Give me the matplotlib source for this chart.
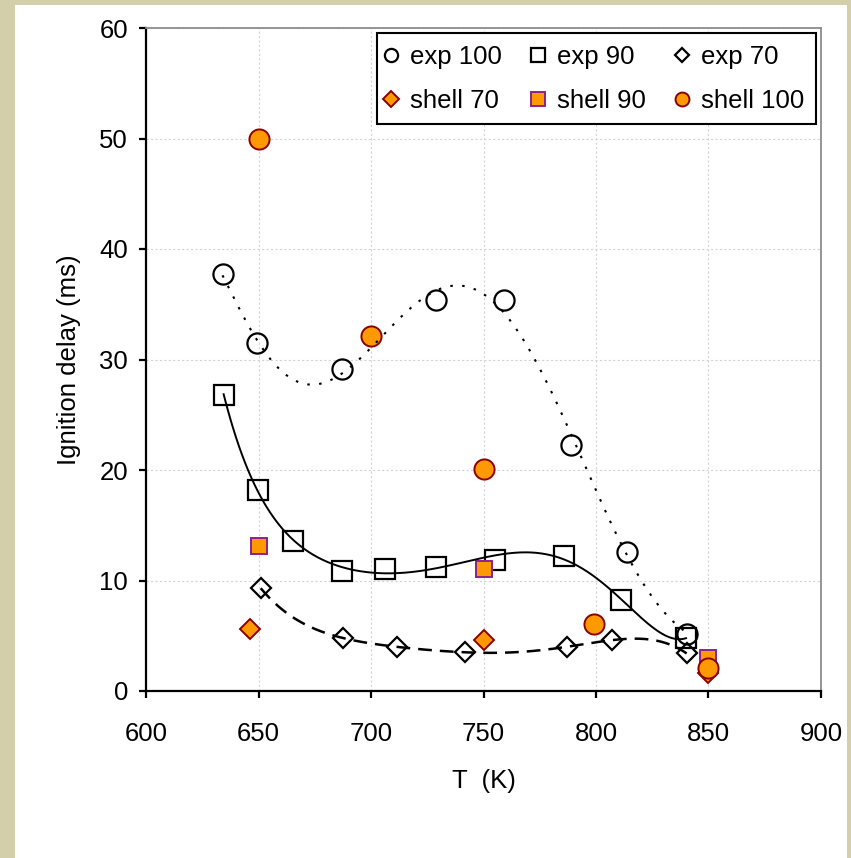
import numpy as np
import matplotlib
matplotlib.use("Agg")
import matplotlib.pyplot as plt
from matplotlib.patches import Rectangle

plt.rcParams['font.family'] = ['Liberation Sans', 'DejaVu Sans']

# ---- data ----
exp100_T = [634, 649.5, 687, 729, 759, 789, 814, 840.5]
exp100_t = [37.7, 31.5, 29.1, 35.4, 35.4, 22.3, 12.6, 5.2]
exp90_T = [634.5, 649.8, 665.5, 687, 706, 729, 755, 786, 811, 840]
exp90_t = [26.8, 18.2, 13.6, 10.9, 11.0, 11.2, 11.9, 12.2, 8.2, 4.8]
exp70_T = [651, 687.4, 711.4, 741.8, 787, 807, 840.3]
exp70_t = [9.3, 4.8, 4.0, 3.5, 4.0, 4.6, 3.4]
shell70_T = [646, 750, 850]
shell70_t = [5.6, 4.6, 1.6]
shell90_T = [650, 750, 850]
shell90_t = [13.1, 11.0, 3.0]
shell100_T = [650, 700, 750, 799, 850]
shell100_t = [50.0, 32.1, 20.1, 6.1, 2.1]

x_ticks = [600, 650, 700, 750, 800, 850, 900]
y_ticks = [0, 10, 20, 30, 40, 50, 60]

W, H = 851, 858
fig = plt.figure(figsize=(W / 100, H / 100), dpi=100)
fig.patch.set_facecolor('white')
beige = '#D3CFAA'
for (x0, y0, w, h) in [(0, 0, 15, H), (0, H - 5, W, 5), (847, 0, 4, H)]:
    fig.patches.append(Rectangle((x0 / W, y0 / H), w / W, h / H, transform=fig.transFigure,
                                 facecolor=beige, edgecolor='none', zorder=-10))

ax = fig.add_axes([146 / W, 1 - 691 / H, 675 / W, 663 / H])
ax.set_xlim(600, 900)
ax.set_ylim(0, 60)
ax.set_xticks(x_ticks)
ax.set_yticks(y_ticks)
ax.grid(True, color='#d4d4d4', linewidth=0.8, linestyle=(0, (2, 2)))
ax.set_axisbelow(True)

for s in ['top', 'right']:
    ax.spines[s].set_color('#8c8c8c')
    ax.spines[s].set_linewidth(1.3)
for s in ['left', 'bottom']:
    ax.spines[s].set_color('black')
    ax.spines[s].set_linewidth(1.6)

fs = 18.5
ax.tick_params(axis='both', direction='out', length=5, width=1.6, labelsize=fs, colors='black')
ax.tick_params(axis='y', pad=8)
ax.tick_params(axis='x', pad=17)
ax.set_xlabel('T  (K)', fontsize=fs, labelpad=17)
ax.set_ylabel('Ignition delay (ms)', fontsize=fs, labelpad=13)

orange = '#FF9900'
h1, = ax.plot(exp100_T, exp100_t, 'o', ms=14.5, mfc='none', mec='black', mew=1.6, label='exp 100', zorder=3)
h2, = ax.plot(exp90_T, exp90_t, 's', ms=14, mfc='none', mec='black', mew=1.6, label='exp 90', zorder=3)
h3, = ax.plot(exp70_T, exp70_t, 'D', ms=10.2, mfc='none', mec='black', mew=1.6, label='exp 70', zorder=3)
h4, = ax.plot(shell70_T, shell70_t, 'D', ms=10.2, mfc=orange, mec='#8B0000', mew=1.4, label='shell 70', zorder=4)
h5, = ax.plot(shell90_T, shell90_t, 's', ms=11.2, mfc=orange, mec='#8B2090', mew=1.4, label='shell 90', zorder=4)
h6, = ax.plot(shell100_T, shell100_t, 'o', ms=14.5, mfc=orange, mec='#8B0000', mew=1.4, label='shell 100', zorder=4)

# polynomial trendlines (as in the source chart)
def trend(T, t, deg):
    c = np.polyfit(T, t, deg)
    xs = np.linspace(min(T), max(T), 300)
    return xs, np.polyval(c, xs)

xs, ys = trend(exp100_T, exp100_t, 6)
ax.plot(xs, ys, color='black', lw=1.5, dashes=(1.2, 4.5), zorder=5)
xs, ys = trend(exp90_T, exp90_t, 6)
ax.plot(xs, ys, color='black', lw=1.4, zorder=5)
xs, ys = trend(exp70_T, exp70_t, 5)
ax.plot(xs, ys, color='black', lw=1.8, dashes=(5.5, 3.2), zorder=5)

handles = [h1, h4, h2, h5, h3, h6]
leg = ax.legend(handles=handles, labels=[h.get_label() for h in handles], ncol=3,
                loc='upper right', bbox_to_anchor=(0.9926, 0.9925), borderaxespad=0,
                fontsize=fs, frameon=True, fancybox=False, framealpha=1,
                edgecolor='black', handlelength=0.2, handletextpad=0.65,
                columnspacing=1.3, borderpad=0.45, labelspacing=0.78)
leg.get_frame().set_linewidth(1.5)
leg.set_zorder(10)
leg_sizes = [9.5, 8.5, 10, 10.5, 7.5, 10]
for lh, s in zip(leg.legend_handles, leg_sizes):
    lh.set_markersize(s)

fig.savefig('out.png', dpi=100, facecolor=fig.get_facecolor())
